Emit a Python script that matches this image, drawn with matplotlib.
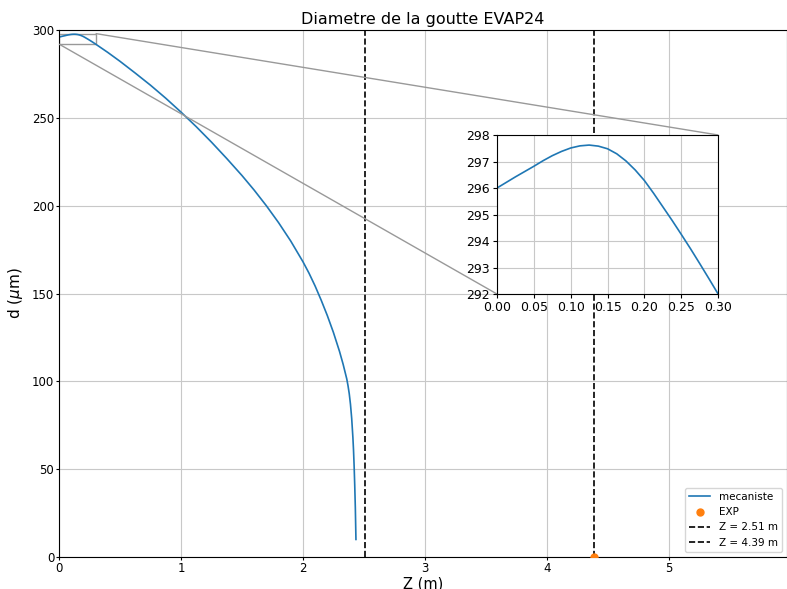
import numpy as np
import matplotlib
matplotlib.use('Agg')
import matplotlib.pyplot as plt
from mpl_toolkits.axes_grid1.inset_locator import mark_inset

# Données : position Z (m) et diamètre d (µm)
z_meca = [0, 0.0125, 0.025, 0.0375, 0.05, 0.0625, 0.075, 0.0875, 0.1,
          0.1125, 0.125, 0.1375, 0.15, 0.1625, 0.175, 0.1875, 0.2, 0.2125,
          0.225, 0.2375, 0.25, 0.2625, 0.275, 0.2875, 0.3,
          0.4, 0.5, 0.625, 0.75, 0.875, 1.0, 1.125, 1.25, 1.375, 1.5, 1.6,
          1.7, 1.8, 1.9, 2.0, 2.05, 2.1, 2.15, 2.2, 2.25, 2.3, 2.33, 2.36,
          2.37, 2.38, 2.39, 2.40, 2.41, 2.415, 2.42, 2.425, 2.43, 2.435]
d_meca = [296.00, 296.21, 296.42, 296.62, 296.82, 297.03, 297.22, 297.38,
          297.51, 297.59, 297.62, 297.58, 297.48, 297.29, 297.02, 296.68,
          296.28, 295.80, 295.29, 294.78, 294.25, 293.71, 293.15, 292.58,
          292.00,
          287.25, 282.2, 275.5, 268.6, 261.2, 253.3, 245.0, 236.2, 226.9,
          217.2, 208.9, 200.0, 190.4, 179.9, 168.15, 161.6, 154.3, 146.2,
          137.5, 127.9, 117.1, 109.7, 101.3, 97.5, 93.0, 87.0, 79.0, 68.0,
          61.0, 52.0, 41.0, 28.0, 10.0]

# Point expérimental
z_exp = [4.39]
d_exp = [0.0]

# Positions des lignes verticales
z_lignes = [2.51, 4.39]

fig = plt.figure(figsize=(7.87, 5.89), dpi=100)
ax = fig.add_axes([0.075, 0.0543, 0.925, 0.8947])

ax.plot(z_meca, d_meca, color='C0', linewidth=1.2, label='mecaniste')
ax.scatter(z_exp, d_exp, color='C1', s=25, zorder=3, label='EXP')
for zl in z_lignes:
    ax.axvline(zl, color='k', linestyle='--', linewidth=1.2, label='Z = %.2f m' % zl)

ax.set_xlim(0, 5.97)
ax.set_ylim(0, 300)
ax.set_yticks(np.arange(0, 301, 50))
ax.set_xticks(np.arange(0, 6, 1))
ax.grid(True, color='#c8c8c8')
ax.set_title('Diametre de la goutte EVAP24', fontsize=11.5, pad=4)
ax.set_xlabel('Z (m)', fontsize=10.5)
ax.set_ylabel(r'd ($\mu$m)', fontsize=11)
ax.xaxis.set_label_coords(0.5, -0.0361)
ax.yaxis.set_label_coords(-0.047, 0.5)
ax.tick_params(labelsize=8.5, length=2.5, pad=1)
ax.legend(loc='lower right', fontsize=7.5)

# Zoom sur le début de la trajectoire
axins = fig.add_axes([0.6315, 0.5008, 0.281, 0.27])
axins.plot(z_meca, d_meca, color='C0', linewidth=1.2)
axins.set_xlim(0, 0.3)
axins.set_ylim(292, 298)
axins.set_xticks(np.arange(0, 0.31, 0.05))
axins.set_xticklabels(['%.2f' % v for v in np.arange(0, 0.31, 0.05)])
axins.set_yticks(np.arange(292, 299, 1))
axins.grid(True, color='#c8c8c8')
axins.tick_params(labelsize=9, length=3, pad=2)
mark_inset(ax, axins, loc1=1, loc2=3, fc='none', ec='0.6')

fig.savefig('out.png', dpi=100)
